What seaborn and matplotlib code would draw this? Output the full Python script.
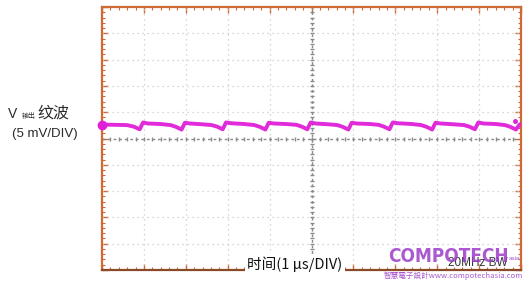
import matplotlib
matplotlib.use("Agg")
import matplotlib.pyplot as plt
from matplotlib import font_manager
from matplotlib.font_manager import FontProperties
import seaborn as sns
import numpy as np
import pandas as pd

# ---- data (time in µs, ripple in mV; 1 µs/div, 5 mV/div) ----
ripple_time_us = [
    0.00, 0.30, 0.60, 0.76, 0.90,
    0.98, 1.10, 1.40, 1.64, 1.77, 1.90,
    1.98, 2.10, 2.40, 2.62, 2.75, 2.88,
    2.96, 3.08, 3.40, 3.64, 3.77, 3.90,
    3.98, 4.10, 4.40, 4.64, 4.77, 4.90,
    4.98, 5.10, 5.40, 5.62, 5.75, 5.88,
    5.96, 6.08, 6.40, 6.60, 6.73, 6.86,
    6.94, 7.06, 7.40, 7.62, 7.75, 7.88,
    7.96, 8.08, 8.40, 8.64, 8.77, 8.90,
    8.98, 9.10, 9.40, 9.62, 9.75, 9.88,
    9.96, 10.00,
]
ripple_mv = [
    2.65, 2.60, 2.55, 2.25, 1.75,
    3.05, 2.85, 2.75, 2.55, 2.20, 1.70,
    3.00, 2.85, 2.70, 2.55, 2.25, 1.75,
    3.05, 2.90, 2.75, 2.55, 2.20, 1.70,
    3.00, 2.85, 2.75, 2.60, 2.25, 1.75,
    3.05, 2.85, 2.70, 2.55, 2.20, 1.70,
    3.00, 2.85, 2.75, 2.60, 2.25, 1.75,
    3.05, 2.90, 2.75, 2.55, 2.20, 1.70,
    3.00, 2.85, 2.70, 2.55, 2.25, 1.75,
    3.05, 2.85, 2.75, 2.55, 2.20, 1.70,
    2.60, 2.75,
]
x_divs = 10          # horizontal divisions (1 µs each)
y_divs = 10          # vertical divisions (5 mV each)
mv_per_div = 5

ylabel_main = "纹波"
ylabel_v = "V"
ylabel_sub = "输出"
ylabel_scale = "(5 mV/DIV)"
xlabel = "时间(1 μs/DIV)"
bw_label = "20MHz BW"
wm_big = "COMPOTECH"
wm_small = "智慧電子設計www.compotechasia.com"

sns.set_style("white")
plt.rcParams['font.family'] = ['Liberation Sans', 'Noto Sans CJK SC', 'DejaVu Sans']

# pick a bold narrow / condensed font for the watermark if one is installed
def weight_num(w):
    if isinstance(w, (int, float)):
        return w
    table = {"ultralight": 200, "light": 300, "normal": 400, "regular": 400,
             "book": 400, "medium": 500, "semibold": 600, "demibold": 600,
             "bold": 700, "extra bold": 800, "heavy": 900, "black": 900}
    return table.get(str(w).lower(), 400)

cands = []
for f in font_manager.fontManager.ttflist:
    n = (f.name + " " + f.fname).lower()
    if ("narrow" in n or "condensed" in n or str(f.stretch).lower() in
            ("condensed", "semi-condensed", "extra-condensed")) and f.style == "normal":
        cands.append((abs(weight_num(f.weight) - 750), f.fname))
if cands:
    cands.sort()
    wm_prop = FontProperties(fname=cands[0][1])
else:
    wm_prop = FontProperties(family="DejaVu Sans", weight="bold")

W, H = 528, 286
fig = plt.figure(figsize=(W / 100, H / 100), dpi=100)
fig.patch.set_facecolor("white")

def px(x, y):
    return x / W, 1 - y / H

L, T, R, B = 102, 7, 521, 270
ax = fig.add_axes([L / W, 1 - B / H, (R - L) / W, (B - T) / H])
ax.set_facecolor("white")

df = pd.DataFrame({"t": ripple_time_us, "v": ripple_mv})

ax.set_xlim(0, x_divs)
ax.set_ylim(-y_divs / 2 * mv_per_div, y_divs / 2 * mv_per_div)

# grid
grid_col = "#c9c9c9"
for i in range(1, x_divs):
    if i == x_divs // 2:
        continue
    ax.axvline(i, color=grid_col, lw=0.9, ls=(0, (1, 3)), zorder=1)
for j in range(1, y_divs):
    if j == y_divs // 2:
        continue
    ax.axhline(-y_divs / 2 * mv_per_div + j * mv_per_div, color=grid_col, lw=0.9,
               ls=(0, (1, 3)), zorder=1)
# center crosshair
ax.axvline(x_divs / 2, color="#8a8a8a", lw=1.0, ls=(0, (2, 2)), zorder=1)
ax.axhline(0, color="#8a8a8a", lw=1.0, ls=(0, (2, 2)), zorder=1)
xx = np.arange(0, x_divs + 0.01, 0.2)
ax.plot(xx, np.zeros(len(xx)), ls="none", marker="|", ms=3, color="#8a8a8a", zorder=1)
yy = np.arange(-25, 25.01, 1.0)
ax.plot(np.full(len(yy), x_divs / 2), yy, ls="none", marker="_", ms=3,
        color="#8a8a8a", zorder=1)

sns.lineplot(data=df, x="t", y="v", ax=ax, color="#e01fd8", lw=2.8,
             zorder=3, estimator=None, alpha=0.95)
ax.plot([0], [ripple_mv[0]], marker="o", ms=6, color="#e01fd8",
        clip_on=False, zorder=5)
ax.plot([x_divs - 0.15], [ripple_mv[-1] + 0.5], marker="o", ms=2.5,
        color="#e01fd8", clip_on=False, zorder=5)

# frame & ticks
spine_col = "#cf6a35"
for s in ax.spines.values():
    s.set_visible(True)
    s.set_color(spine_col)
    s.set_linewidth(1.6)
ax.spines["bottom"].set_color("#8a4a2a")
ax.set_xticks(np.arange(0, x_divs + 0.01, 1))
ax.set_yticks(np.arange(-25, 25.01, 5))
ax.set_xticks(np.arange(0, x_divs + 0.01, 0.2), minor=True)
ax.set_yticks(np.arange(-25, 25.01, 1), minor=True)
ax.tick_params(which="both", direction="in", top=True, right=True, left=True,
               bottom=True, color=spine_col, labelbottom=False, labelleft=False)
ax.tick_params(which="major", length=4, width=1)
ax.tick_params(which="minor", length=2.5, width=0.8)
ax.set_xlabel("")
ax.set_ylabel("")
ax.grid(False)

# labels
txt_col = "#2a2a2a"
fig.text(*px(8, 114), ylabel_v, fontsize=10, color=txt_col, va="center", ha="left")
fig.text(*px(22, 116), ylabel_sub, fontsize=5, color=txt_col, va="center", ha="left",
         family=['Noto Sans CJK SC', 'DejaVu Sans'])
fig.text(*px(37, 113), ylabel_main, fontsize=11.5, color=txt_col, va="center", ha="left",
         family=['Noto Sans CJK SC', 'DejaVu Sans'])
fig.text(*px(12, 134), ylabel_scale, fontsize=9.5, color=txt_col, va="center", ha="left")

fig.text(*px(295, 264), xlabel, fontsize=10.5, color="#111111", va="center", ha="center",
         family=['Noto Sans CJK SC', 'DejaVu Sans'],
         bbox=dict(facecolor="white", edgecolor="none", pad=1.5))
fig.text(*px(478, 263), bw_label, fontsize=8.5, color="#333333", va="center",
         ha="center", zorder=2)

# watermark (font size fitted to the reference width of ~120 px)
wm = fig.text(*px(448, 256), wm_big, fontsize=20, color="#9b3cc8", alpha=0.85,
              va="center", ha="center", fontproperties=wm_prop, zorder=3)
wm.set_fontsize(20)
renderer = fig.canvas.get_renderer()
wpx = wm.get_window_extent(renderer).width
if wpx > 0:
    wm.set_fontsize(min(24, 20 * 120.0 / wpx))
fig.text(*px(520, 258), "asia", fontsize=4.5, color="#9b3cc8", alpha=0.85,
         va="center", ha="right", zorder=3)
fig.text(*px(453, 276), wm_small, fontsize=5.5, color="#9b3cc8", alpha=0.85,
         va="center", ha="center", family=['Noto Sans CJK TC', 'DejaVu Sans'])

fig.savefig("out.png", dpi=100, facecolor="white")
